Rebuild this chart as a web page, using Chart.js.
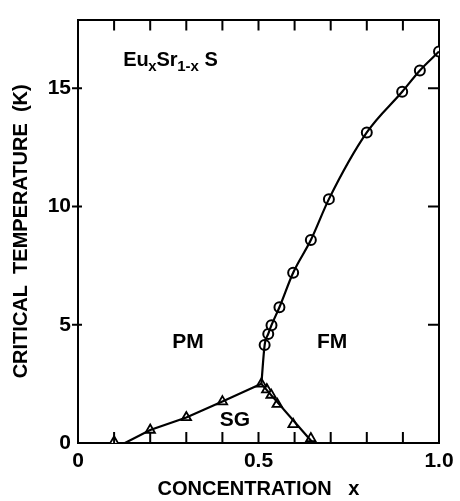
<!DOCTYPE html>
<html>
<head>
<meta charset="utf-8">
<script src="https://cdn.jsdelivr.net/npm/chart.js@4.4.0/dist/chart.umd.min.js"></script>
<style>
  html, body { margin: 0; padding: 0; background: #fff; }
  #wrap { width: 460px; height: 501px; }
</style>
</head>
<body>
<div id="wrap"><canvas id="fase"></canvas></div>
<script>
// pontos medidos (circulos = FM, triangulos = SG)
const fmConc = [0.517, 0.527, 0.536, 0.558, 0.596, 0.645, 0.695, 0.80, 0.898, 0.947, 1.0];
const fmTemp = [4.14, 4.61, 4.98, 5.74, 7.2, 8.58, 10.31, 13.13, 14.85, 15.75, 16.55];
const sgConc = [0.1, 0.2, 0.3, 0.4, 0.508];
const sgTemp = [0.05, 0.55, 1.08, 1.75, 2.5];
const reConc = [0.523, 0.535, 0.552, 0.596, 0.645];
const reTemp = [2.26, 2.03, 1.64, 0.79, 0.19];

// linhas de fronteira
const linhaPmSgConc = [0.13, 0.2, 0.3, 0.4, 0.508];
const linhaPmSgTemp = [0, 0.55, 1.08, 1.75, 2.5];
const linhaPmFmConc = [0.508, 0.517, 0.527, 0.536, 0.558, 0.596, 0.645, 0.695, 0.80, 0.898, 0.947, 1.0];
const linhaPmFmTemp = [2.5, 4.14, 4.61, 4.98, 5.74, 7.2, 8.58, 10.31, 13.13, 14.85, 15.75, 16.55];
const linhaSgFmConc = [0.508, 0.651];
const linhaSgFmTemp = [2.5, 0];

// eixos
const xTicks = [0, 0.5, 1.0];
const xTickLabels = ["0", "0.5", "1.0"];
const xMinor = [0.1, 0.2, 0.3, 0.4, 0.5, 0.6, 0.7, 0.8, 0.9];
const yTicks = [0, 5, 10, 15];
const yMax = 17.9;

const fonte = "'Liberation Sans Narrow', 'Liberation Sans', Arial, sans-serif";

function pares(xs, ys) {
  return xs.map((x, i) => ({ x: x, y: ys[i] }));
}

// textos dentro do grafico, em coordenadas de dados
const rotulos = [
  { t: "PM", x: 0.305, y: 4.27 },
  { t: "FM", x: 0.704, y: 4.27 },
  { t: "SG", x: 0.435, y: 0.95 },
];

const textos = {
  id: "textos",
  afterDraw(chart) {
    const ctx = chart.ctx;
    const sx = chart.scales.x, sy = chart.scales.y;
    const a = chart.chartArea;
    ctx.save();
    ctx.fillStyle = "#000";
    ctx.textAlign = "center";
    ctx.textBaseline = "middle";
    ctx.font = "bold 21px " + fonte;
    rotulos.forEach(r => {
      ctx.fillText(r.t, sx.getPixelForValue(r.x), sy.getPixelForValue(r.y));
    });

    // formula Eu_x Sr_1-x S
    let px = sx.getPixelForValue(0.125);
    const base = sy.getPixelForValue(15.94);
    ctx.textAlign = "left";
    ctx.textBaseline = "alphabetic";
    const partes = [["Eu", 0], ["x", 1], ["Sr", 0], ["1-x", 1], [" S", 0]];
    partes.forEach(p => {
      ctx.font = (p[1] ? "bold 15px " : "bold 20px ") + fonte;
      ctx.fillText(p[0], px, base + (p[1] ? 5 : 0));
      px += ctx.measureText(p[0]).width - (p[1] ? 0 : 0.5);
    });

    // tracinhos dos eixos
    ctx.strokeStyle = "#000";
    ctx.lineWidth = 2;
    ctx.beginPath();
    xMinor.forEach(v => {
      const p = sx.getPixelForValue(v);
      ctx.moveTo(p, a.bottom); ctx.lineTo(p, a.bottom - 11);
      ctx.moveTo(p, a.top); ctx.lineTo(p, a.top + 11);
    });
    yTicks.slice(1).forEach(v => {
      const p = sy.getPixelForValue(v);
      ctx.moveTo(a.left - 6, p); ctx.lineTo(a.left + 4, p);
      ctx.moveTo(a.right, p); ctx.lineTo(a.right - 11, p);
    });
    ctx.stroke();
    ctx.restore();
  }
};

const ctx = document.getElementById("fase");
const grafico = new Chart(ctx, {
  type: "scatter",
  data: {
    datasets: [
      {
        label: "PM-SG",
        data: pares(linhaPmSgConc, linhaPmSgTemp),
        showLine: true, pointRadius: 0, borderColor: "#000", borderWidth: 2.2,
      },
      {
        label: "PM-FM",
        data: pares(linhaPmFmConc, linhaPmFmTemp),
        showLine: true, pointRadius: 0, borderColor: "#000", borderWidth: 2.2,
        cubicInterpolationMode: "monotone",
      },
      {
        label: "SG-FM",
        data: pares(linhaSgFmConc, linhaSgFmTemp),
        showLine: true, pointRadius: 0, borderColor: "#000", borderWidth: 2.2,
      },
      {
        label: "FM",
        data: pares(fmConc, fmTemp),
        pointStyle: "circle", pointRadius: 5,
        backgroundColor: "#fff", borderColor: "#000", borderWidth: 2,
      },
      {
        label: "SG",
        data: pares(sgConc, sgTemp),
        pointStyle: "triangle", pointRadius: 5.5,
        backgroundColor: "#fff", borderColor: "#000", borderWidth: 1.8,
      },
      {
        label: "SG-FM pontos",
        data: pares(reConc, reTemp),
        pointStyle: "triangle", pointRadius: 5.5,
        backgroundColor: "#fff", borderColor: "#000", borderWidth: 1.8,
      },
    ],
  },
  options: {
    responsive: true,
    maintainAspectRatio: false,
    animation: false,
    layout: { padding: { top: 10, right: 21, left: 0, bottom: 0 } },
    plugins: { legend: { display: false }, tooltip: { enabled: false } },
    scales: {
      x: {
        type: "linear", min: 0, max: 1.0,
        afterBuildTicks: s => { s.ticks = xTicks.map(v => ({ value: v })); },
        afterFit: s => { s.height = 58; },
        grid: { drawOnChartArea: false, drawTicks: false },
        border: { display: true, color: "#000", width: 2 },
        ticks: {
          padding: 6, color: "#000",
          font: { family: fonte, size: 21, weight: "bold" },
          callback: v => xTickLabels[xTicks.indexOf(v)],
        },
        title: {
          display: true, text: "CONCENTRATION   x", color: "#000",
          font: { family: fonte, size: 20, weight: "bold" }, padding: { top: 2, bottom: 0 },
        },
      },
      y: {
        type: "linear", min: 0, max: yMax,
        afterBuildTicks: s => { s.ticks = yTicks.map(v => ({ value: v })); },
        afterFit: s => { s.width = 78; },
        grid: { drawOnChartArea: false, drawTicks: false },
        border: { display: true, color: "#000", width: 2 },
        ticks: { padding: 7, color: "#000", font: { family: fonte, size: 21, weight: "bold" } },
        title: {
          display: true, text: "CRITICAL  TEMPERATURE  (K)", color: "#000",
          font: { family: fonte, size: 20, weight: "bold" }, padding: { top: 9, bottom: 0 },
        },
      },
      x2: {
        type: "linear", position: "top", min: 0, max: 1.0,
        grid: { drawOnChartArea: false, drawTicks: false },
        border: { display: true, color: "#000", width: 2 },
        ticks: { display: false },
        afterFit: s => { s.height = 0; },
      },
      y2: {
        type: "linear", position: "right", min: 0, max: yMax,
        grid: { drawOnChartArea: false, drawTicks: false },
        border: { display: true, color: "#000", width: 2 },
        ticks: { display: false },
        afterFit: s => { s.width = 0; },
      },
    },
  },
  plugins: [textos],
});
</script>
</body>
</html>
